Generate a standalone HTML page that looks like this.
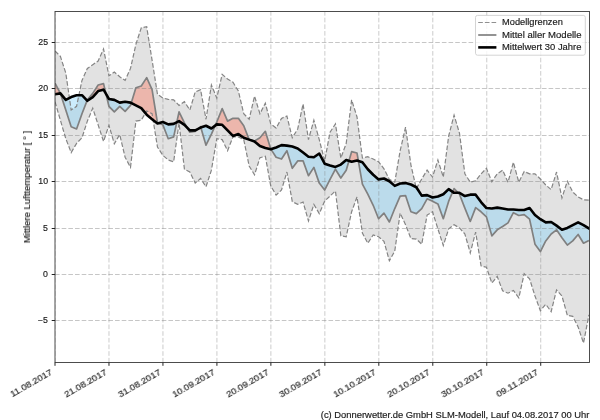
<!DOCTYPE html>
<html><head><meta charset="utf-8"><title>Chart</title>
<style>
html,body{margin:0;padding:0;background:#fff;}
.yl,.xl,.ylab span,.lg,.ft{will-change:transform;-webkit-text-stroke:0.15px #1a1a1a;}
body{width:600px;height:420px;position:relative;overflow:hidden;font-family:"Liberation Sans",sans-serif;color:#1a1a1a;}
.yl{position:absolute;right:551.7px;width:40px;text-align:right;transform-origin:100% 50%;transform:scaleX(1.07);font-size:8.2px;line-height:10px;height:10px;white-space:nowrap;}
.xl{position:absolute;top:368.2px;font-size:8.2px;line-height:10px;height:10px;white-space:nowrap;transform-origin:100% 0%;transform:rotate(-30deg) scaleX(1.16);}
.ylab{position:absolute;left:27.6px;top:187.3px;width:0;height:0;}
.ylab span{position:absolute;display:block;white-space:nowrap;font-size:8.2px;line-height:10px;transform:translate(-50%,-50%) rotate(-90deg) scaleX(1.16);}
.lg{position:absolute;left:502.3px;transform-origin:0 50%;transform:scaleX(1.172);font-size:8.2px;line-height:10px;white-space:nowrap;}
.ft{position:absolute;right:10.6px;top:410.9px;transform-origin:100% 50%;transform:scaleX(1.146);font-size:8.2px;line-height:10px;white-space:nowrap;}
</style></head><body>
<svg width="600" height="420" viewBox="0 0 600 420" style="position:absolute;left:0;top:0">
<defs><clipPath id="c"><rect x="55.0" y="11.5" width="534.5" height="351.0"/></clipPath></defs>
<rect x="55.0" y="11.5" width="534.5" height="351.0" fill="#fff"/>
<g clip-path="url(#c)">
<path d="M55.00,51.01 L60.39,56.38 L65.79,73.03 L71.18,110.03 L76.57,106.32 L81.97,80.43 L87.36,68.40 L92.75,64.70 L98.14,61.00 L103.54,48.97 L108.93,75.80 L114.32,72.10 L119.72,76.72 L125.11,80.43 L130.50,68.40 L135.89,44.35 L141.29,27.70 L146.68,26.78 L152.07,60.07 L157.47,94.30 L162.86,98.00 L168.25,99.39 L173.65,99.85 L179.04,105.40 L184.43,101.70 L189.82,110.03 L195.22,91.99 L200.61,89.68 L206.00,119.28 L211.40,85.05 L216.79,98.00 L222.18,74.41 L227.58,79.04 L232.97,82.28 L238.36,91.06 L243.75,113.72 L249.15,119.28 L254.54,96.15 L259.93,113.72 L265.33,103.09 L270.72,123.90 L276.11,128.06 L281.51,118.35 L286.90,116.04 L292.29,137.78 L297.69,128.99 L303.08,104.01 L308.47,139.62 L313.86,120.20 L319.26,139.62 L324.65,160.90 L330.04,132.22 L335.44,123.90 L340.83,158.12 L346.22,143.33 L351.62,99.85 L357.01,116.96 L362.40,158.12 L367.79,156.74 L373.19,159.05 L378.58,161.82 L383.97,168.76 L389.37,179.40 L394.76,182.18 L400.15,150.72 L405.54,127.14 L410.94,165.06 L416.33,188.65 L421.72,178.94 L427.12,170.15 L432.51,177.09 L437.90,159.97 L443.30,177.09 L448.69,135.92 L454.08,115.11 L459.47,133.15 L464.87,173.85 L470.26,182.18 L475.65,180.79 L481.05,173.85 L486.44,168.30 L491.83,181.71 L497.23,173.85 L502.62,170.15 L508.01,182.18 L513.40,162.29 L518.80,182.18 L524.19,171.54 L529.58,173.85 L534.98,173.85 L540.37,178.94 L545.76,184.95 L551.16,189.57 L556.55,172.00 L561.94,197.90 L567.34,181.25 L572.73,191.89 L578.12,196.97 L583.51,199.75 L588.91,200.21 L588.91,314.91 L583.51,343.12 L578.12,326.94 L572.73,316.30 L567.34,315.38 L561.94,295.95 L556.55,289.94 L551.16,311.68 L545.76,304.27 L540.37,310.75 L534.98,295.95 L529.58,278.84 L524.19,273.75 L518.80,297.80 L513.40,290.40 L508.01,293.18 L502.62,290.86 L497.23,276.52 L491.83,283.00 L486.44,267.27 L481.05,265.89 L475.65,232.12 L470.26,252.94 L464.87,233.97 L459.47,227.96 L454.08,224.72 L448.69,228.89 L443.30,245.54 L437.90,228.89 L432.51,211.78 L427.12,215.01 L421.72,244.15 L416.33,239.06 L410.94,238.60 L405.54,224.72 L400.15,213.16 L394.76,251.09 L389.37,260.80 L383.97,241.38 L378.58,236.75 L373.19,234.90 L367.79,243.22 L362.40,233.05 L357.01,196.97 L351.62,211.78 L346.22,236.75 L340.83,235.82 L335.44,190.96 L330.04,196.05 L324.65,201.14 L319.26,213.62 L313.86,204.38 L308.47,221.03 L303.08,202.06 L297.69,204.38 L292.29,201.60 L286.90,172.00 L281.51,190.04 L276.11,195.12 L270.72,185.88 L265.33,156.28 L259.93,157.66 L254.54,174.78 L249.15,165.99 L243.75,139.62 L238.36,136.85 L232.97,136.85 L227.58,150.72 L222.18,139.62 L216.79,138.70 L211.40,170.15 L206.00,186.80 L200.61,178.47 L195.22,183.10 L189.82,172.00 L184.43,169.22 L179.04,122.97 L173.65,161.82 L168.25,159.97 L162.86,155.35 L157.47,147.03 L152.07,113.72 L146.68,110.95 L141.29,120.20 L135.89,121.12 L130.50,167.38 L125.11,157.20 L119.72,134.54 L114.32,143.79 L108.93,125.29 L103.54,141.47 L98.14,124.82 L92.75,108.18 L87.36,121.12 L81.97,137.78 L76.57,143.33 L71.18,152.57 L65.79,138.70 L60.39,120.20 L55.00,101.70Z" fill="#e2e2e2"/>
<path d="M60.39,93.38 L65.79,110.03 L65.79,99.85 L60.39,93.38Z M65.79,110.03 L71.18,126.67 L71.18,97.07 L65.79,99.85Z M71.18,126.67 L76.57,128.99 L76.57,95.22 L71.18,97.07Z M76.57,128.99 L81.97,113.72 L81.97,95.22 L76.57,95.22Z M81.97,113.72 L87.10,100.51 L81.97,95.22Z M105.95,93.82 L108.93,106.32 L108.93,98.93Z M108.93,106.32 L114.32,111.88 L114.32,99.85 L108.93,98.93Z M114.32,111.88 L119.72,106.32 L119.72,102.62 L114.32,99.85Z M119.72,106.32 L125.11,111.41 L125.11,101.70 L119.72,102.62Z M125.11,111.41 L130.50,105.40 L130.50,102.62 L125.11,101.70Z M130.50,105.40 L131.24,103.00 L130.50,102.62Z M158.24,123.24 L162.86,124.82 L162.86,122.05Z M162.86,124.82 L168.25,138.70 L168.25,124.36 L162.86,122.05Z M168.25,138.70 L173.65,136.85 L173.65,123.90 L168.25,124.36Z M173.65,136.85 L176.79,122.28 L173.65,123.90Z M187.13,127.60 L189.82,132.22 L189.82,130.38Z M189.82,132.22 L195.22,131.30 L195.22,130.38 L189.82,130.38Z M195.22,131.30 L197.91,128.99 L195.22,130.38Z M200.86,127.52 L206.00,145.17 L206.00,125.75Z M206.00,145.17 L211.40,134.08 L211.40,128.53 L206.00,125.75Z M211.40,134.08 L215.20,125.59 L211.40,128.53Z M270.97,149.25 L276.11,157.20 L276.11,147.49Z M276.11,157.20 L281.51,159.05 L281.51,145.17 L276.11,147.49Z M281.51,159.05 L286.90,150.72 L286.90,145.64 L281.51,145.17Z M286.90,150.72 L292.29,168.30 L292.29,146.56 L286.90,145.64Z M292.29,168.30 L297.69,160.90 L297.69,148.41 L292.29,146.56Z M297.69,160.90 L303.08,160.90 L303.08,152.57 L297.69,148.41Z M303.08,160.90 L308.47,175.70 L308.47,156.74 L303.08,152.57Z M308.47,175.70 L313.86,167.38 L313.86,157.20 L308.47,156.74Z M313.86,167.38 L319.26,183.10 L319.26,153.50 L313.86,157.20Z M319.26,183.10 L324.65,190.04 L324.65,163.68 L319.26,153.50Z M324.65,190.04 L330.04,179.40 L330.04,165.53 L324.65,163.68Z M330.04,179.40 L335.44,169.22 L335.44,166.91 L330.04,165.53Z M335.44,169.22 L340.83,178.01 L340.83,164.60 L335.44,166.91Z M340.83,178.01 L346.22,170.15 L346.22,159.97 L340.83,164.60Z M346.22,170.15 L348.92,160.90 L346.22,159.97Z M358.38,160.91 L362.40,184.03 L362.40,162.29Z M362.40,184.03 L367.79,194.20 L367.79,169.22 L362.40,162.29Z M367.79,194.20 L373.19,205.30 L373.19,174.78 L367.79,169.22Z M373.19,205.30 L378.58,218.71 L378.58,179.40 L373.19,174.78Z M378.58,218.71 L383.97,213.16 L383.97,178.47 L378.58,179.40Z M383.97,213.16 L389.37,221.95 L389.37,181.25 L383.97,178.47Z M389.37,221.95 L394.76,208.54 L394.76,185.88 L389.37,181.25Z M394.76,208.54 L400.15,196.05 L400.15,183.56 L394.76,185.88Z M400.15,196.05 L405.54,195.59 L405.54,183.10 L400.15,183.56Z M405.54,195.59 L410.94,211.78 L410.94,184.49 L405.54,183.10Z M410.94,211.78 L416.33,213.62 L416.33,187.26 L410.94,184.49Z M416.33,213.62 L421.72,208.54 L421.72,195.59 L416.33,187.26Z M421.72,208.54 L427.12,198.82 L427.12,195.12 L421.72,195.59Z M427.12,198.82 L432.51,201.14 L432.51,197.44 L427.12,195.12Z M432.51,201.14 L437.90,203.91 L437.90,196.51 L432.51,197.44Z M437.90,203.91 L443.30,218.71 L443.30,194.20 L437.90,196.51Z M443.30,218.71 L448.69,201.14 L448.69,189.11 L443.30,194.20Z M448.69,201.14 L452.70,191.86 L448.69,189.11Z M458.13,192.81 L459.47,194.20 L459.47,192.81Z M459.47,194.20 L464.87,208.07 L464.87,196.05 L459.47,192.81Z M464.87,208.07 L470.26,221.49 L470.26,194.66 L464.87,196.05Z M470.26,221.49 L475.65,207.61 L475.65,194.66 L470.26,194.66Z M475.65,207.61 L481.05,211.78 L481.05,202.06 L475.65,194.66Z M481.05,211.78 L486.44,216.86 L486.44,208.07 L481.05,202.06Z M486.44,216.86 L491.83,235.82 L491.83,208.54 L486.44,208.07Z M491.83,235.82 L497.23,229.81 L497.23,207.61 L491.83,208.54Z M497.23,229.81 L502.62,226.57 L502.62,208.54 L497.23,207.61Z M502.62,226.57 L508.01,222.88 L508.01,209.46 L502.62,208.54Z M508.01,222.88 L513.40,212.70 L513.40,209.46 L508.01,209.46Z M513.40,212.70 L518.80,215.47 L518.80,209.93 L513.40,209.46Z M518.80,215.47 L524.19,214.55 L524.19,209.93 L518.80,209.93Z M524.19,214.55 L529.58,219.18 L529.58,208.07 L524.19,209.93Z M529.58,219.18 L534.98,244.15 L534.98,215.01 L529.58,208.07Z M534.98,244.15 L540.37,251.55 L540.37,219.18 L534.98,215.01Z M540.37,251.55 L545.76,240.91 L545.76,222.41 L540.37,219.18Z M545.76,240.91 L551.16,233.97 L551.16,221.95 L545.76,222.41Z M551.16,233.97 L556.55,229.81 L556.55,225.65 L551.16,221.95Z M556.55,229.81 L561.94,237.68 L561.94,229.81 L556.55,225.65Z M561.94,237.68 L567.34,245.07 L567.34,227.96 L561.94,229.81Z M567.34,245.07 L572.73,240.91 L572.73,225.19 L567.34,227.96Z M572.73,240.91 L578.12,234.44 L578.12,222.41 L572.73,225.19Z M578.12,234.44 L583.51,243.22 L583.51,225.19 L578.12,222.41Z M583.51,243.22 L588.91,240.45 L588.91,228.43 L583.51,225.19Z" fill="#85d1f7" fill-opacity="0.42"/>
<path d="M55.00,83.20 L60.39,93.38 L60.39,93.38 L55.00,94.30Z M87.10,100.51 L87.36,99.85 L87.36,100.78Z M87.36,99.85 L92.75,93.38 L92.75,97.07 L87.36,100.78Z M92.75,93.38 L98.14,85.05 L98.14,91.06 L92.75,97.07Z M98.14,85.05 L103.54,83.66 L103.54,89.68 L98.14,91.06Z M103.54,83.66 L105.95,93.82 L103.54,89.68Z M131.24,103.00 L135.89,87.82 L135.89,105.40Z M135.89,87.82 L141.29,85.97 L141.29,108.18 L135.89,105.40Z M141.29,85.97 L146.68,77.65 L146.68,114.65 L141.29,108.18Z M146.68,77.65 L152.07,89.68 L152.07,119.28 L146.68,114.65Z M152.07,89.68 L157.47,122.97 L157.47,123.44 L152.07,119.28Z M157.47,122.97 L158.24,123.24 L157.47,123.44Z M176.79,122.28 L179.04,111.88 L179.04,121.12Z M179.04,111.88 L184.43,122.97 L184.43,124.82 L179.04,121.12Z M184.43,122.97 L187.13,127.60 L184.43,124.82Z M197.91,128.99 L200.61,126.67 L200.61,127.60Z M200.61,126.67 L200.86,127.52 L200.61,127.60Z M215.20,125.59 L216.79,122.05 L216.79,124.36Z M216.79,122.05 L222.18,108.64 L222.18,124.82 L216.79,124.36Z M222.18,108.64 L227.58,121.12 L227.58,130.38 L222.18,124.82Z M227.58,121.12 L232.97,118.35 L232.97,135.92 L227.58,130.38Z M232.97,118.35 L238.36,118.35 L238.36,134.08 L232.97,135.92Z M238.36,118.35 L243.75,125.75 L243.75,137.78 L238.36,134.08Z M243.75,125.75 L249.15,139.62 L249.15,139.62 L243.75,137.78Z M249.15,139.62 L254.54,141.01 L254.54,141.47 L249.15,139.62Z M254.54,141.01 L259.93,137.78 L259.93,146.10 L254.54,141.47Z M259.93,137.78 L265.33,131.30 L265.33,147.95 L259.93,146.10Z M265.33,131.30 L270.72,148.88 L270.72,149.34 L265.33,147.95Z M270.72,148.88 L270.97,149.25 L270.72,149.34Z M348.92,160.90 L351.62,151.65 L351.62,161.82Z M351.62,151.65 L357.01,153.04 L357.01,160.44 L351.62,161.82Z M357.01,153.04 L358.38,160.91 L357.01,160.44Z M452.70,191.86 L454.08,188.65 L454.08,192.81Z M454.08,188.65 L458.13,192.81 L454.08,192.81Z" fill="#fa7a62" fill-opacity="0.42"/>
<path d="M55.00,362.5 V11.5 M108.97,362.5 V11.5 M162.94,362.5 V11.5 M216.91,362.5 V11.5 M270.88,362.5 V11.5 M324.85,362.5 V11.5 M378.82,362.5 V11.5 M432.79,362.5 V11.5 M486.76,362.5 V11.5 M540.73,362.5 V11.5" fill="none" stroke="#808080" stroke-opacity="0.40" stroke-width="1" stroke-dasharray="4.63 2.04"/>
<path d="M55.0,320.50 H589.5 M55.0,274.50 H589.5 M55.0,228.50 H589.5 M55.0,181.50 H589.5 M55.0,135.50 H589.5 M55.0,88.50 H589.5 M55.0,42.50 H589.5" fill="none" stroke="#808080" stroke-opacity="0.45" stroke-width="1" stroke-dasharray="4.63 2.04"/>
<path d="M55.00,51.01 L60.39,56.38 L65.79,73.03 L71.18,110.03 L76.57,106.32 L81.97,80.43 L87.36,68.40 L92.75,64.70 L98.14,61.00 L103.54,48.97 L108.93,75.80 L114.32,72.10 L119.72,76.72 L125.11,80.43 L130.50,68.40 L135.89,44.35 L141.29,27.70 L146.68,26.78 L152.07,60.07 L157.47,94.30 L162.86,98.00 L168.25,99.39 L173.65,99.85 L179.04,105.40 L184.43,101.70 L189.82,110.03 L195.22,91.99 L200.61,89.68 L206.00,119.28 L211.40,85.05 L216.79,98.00 L222.18,74.41 L227.58,79.04 L232.97,82.28 L238.36,91.06 L243.75,113.72 L249.15,119.28 L254.54,96.15 L259.93,113.72 L265.33,103.09 L270.72,123.90 L276.11,128.06 L281.51,118.35 L286.90,116.04 L292.29,137.78 L297.69,128.99 L303.08,104.01 L308.47,139.62 L313.86,120.20 L319.26,139.62 L324.65,160.90 L330.04,132.22 L335.44,123.90 L340.83,158.12 L346.22,143.33 L351.62,99.85 L357.01,116.96 L362.40,158.12 L367.79,156.74 L373.19,159.05 L378.58,161.82 L383.97,168.76 L389.37,179.40 L394.76,182.18 L400.15,150.72 L405.54,127.14 L410.94,165.06 L416.33,188.65 L421.72,178.94 L427.12,170.15 L432.51,177.09 L437.90,159.97 L443.30,177.09 L448.69,135.92 L454.08,115.11 L459.47,133.15 L464.87,173.85 L470.26,182.18 L475.65,180.79 L481.05,173.85 L486.44,168.30 L491.83,181.71 L497.23,173.85 L502.62,170.15 L508.01,182.18 L513.40,162.29 L518.80,182.18 L524.19,171.54 L529.58,173.85 L534.98,173.85 L540.37,178.94 L545.76,184.95 L551.16,189.57 L556.55,172.00 L561.94,197.90 L567.34,181.25 L572.73,191.89 L578.12,196.97 L583.51,199.75 L588.91,200.21" fill="none" stroke="#848484" stroke-width="1.2" stroke-dasharray="4.63 2.04"/>
<path d="M55.00,101.70 L60.39,120.20 L65.79,138.70 L71.18,152.57 L76.57,143.33 L81.97,137.78 L87.36,121.12 L92.75,108.18 L98.14,124.82 L103.54,141.47 L108.93,125.29 L114.32,143.79 L119.72,134.54 L125.11,157.20 L130.50,167.38 L135.89,121.12 L141.29,120.20 L146.68,110.95 L152.07,113.72 L157.47,147.03 L162.86,155.35 L168.25,159.97 L173.65,161.82 L179.04,122.97 L184.43,169.22 L189.82,172.00 L195.22,183.10 L200.61,178.47 L206.00,186.80 L211.40,170.15 L216.79,138.70 L222.18,139.62 L227.58,150.72 L232.97,136.85 L238.36,136.85 L243.75,139.62 L249.15,165.99 L254.54,174.78 L259.93,157.66 L265.33,156.28 L270.72,185.88 L276.11,195.12 L281.51,190.04 L286.90,172.00 L292.29,201.60 L297.69,204.38 L303.08,202.06 L308.47,221.03 L313.86,204.38 L319.26,213.62 L324.65,201.14 L330.04,196.05 L335.44,190.96 L340.83,235.82 L346.22,236.75 L351.62,211.78 L357.01,196.97 L362.40,233.05 L367.79,243.22 L373.19,234.90 L378.58,236.75 L383.97,241.38 L389.37,260.80 L394.76,251.09 L400.15,213.16 L405.54,224.72 L410.94,238.60 L416.33,239.06 L421.72,244.15 L427.12,215.01 L432.51,211.78 L437.90,228.89 L443.30,245.54 L448.69,228.89 L454.08,224.72 L459.47,227.96 L464.87,233.97 L470.26,252.94 L475.65,232.12 L481.05,265.89 L486.44,267.27 L491.83,283.00 L497.23,276.52 L502.62,290.86 L508.01,293.18 L513.40,290.40 L518.80,297.80 L524.19,273.75 L529.58,278.84 L534.98,295.95 L540.37,310.75 L545.76,304.27 L551.16,311.68 L556.55,289.94 L561.94,295.95 L567.34,315.38 L572.73,316.30 L578.12,326.94 L583.51,343.12 L588.91,314.91" fill="none" stroke="#848484" stroke-width="1.2" stroke-dasharray="4.63 2.04"/>
<path d="M55.00,83.20 L60.39,93.38 L65.79,110.03 L71.18,126.67 L76.57,128.99 L81.97,113.72 L87.36,99.85 L92.75,93.38 L98.14,85.05 L103.54,83.66 L108.93,106.32 L114.32,111.88 L119.72,106.32 L125.11,111.41 L130.50,105.40 L135.89,87.82 L141.29,85.97 L146.68,77.65 L152.07,89.68 L157.47,122.97 L162.86,124.82 L168.25,138.70 L173.65,136.85 L179.04,111.88 L184.43,122.97 L189.82,132.22 L195.22,131.30 L200.61,126.67 L206.00,145.17 L211.40,134.08 L216.79,122.05 L222.18,108.64 L227.58,121.12 L232.97,118.35 L238.36,118.35 L243.75,125.75 L249.15,139.62 L254.54,141.01 L259.93,137.78 L265.33,131.30 L270.72,148.88 L276.11,157.20 L281.51,159.05 L286.90,150.72 L292.29,168.30 L297.69,160.90 L303.08,160.90 L308.47,175.70 L313.86,167.38 L319.26,183.10 L324.65,190.04 L330.04,179.40 L335.44,169.22 L340.83,178.01 L346.22,170.15 L351.62,151.65 L357.01,153.04 L362.40,184.03 L367.79,194.20 L373.19,205.30 L378.58,218.71 L383.97,213.16 L389.37,221.95 L394.76,208.54 L400.15,196.05 L405.54,195.59 L410.94,211.78 L416.33,213.62 L421.72,208.54 L427.12,198.82 L432.51,201.14 L437.90,203.91 L443.30,218.71 L448.69,201.14 L454.08,188.65 L459.47,194.20 L464.87,208.07 L470.26,221.49 L475.65,207.61 L481.05,211.78 L486.44,216.86 L491.83,235.82 L497.23,229.81 L502.62,226.57 L508.01,222.88 L513.40,212.70 L518.80,215.47 L524.19,214.55 L529.58,219.18 L534.98,244.15 L540.37,251.55 L545.76,240.91 L551.16,233.97 L556.55,229.81 L561.94,237.68 L567.34,245.07 L572.73,240.91 L578.12,234.44 L583.51,243.22 L588.91,240.45" fill="none" stroke="#808080" stroke-width="1.7" stroke-linejoin="round"/>
<path d="M55.00,94.30 L60.39,93.38 L65.79,99.85 L71.18,97.07 L76.57,95.22 L81.97,95.22 L87.36,100.78 L92.75,97.07 L98.14,91.06 L103.54,89.68 L108.93,98.93 L114.32,99.85 L119.72,102.62 L125.11,101.70 L130.50,102.62 L135.89,105.40 L141.29,108.18 L146.68,114.65 L152.07,119.28 L157.47,123.44 L162.86,122.05 L168.25,124.36 L173.65,123.90 L179.04,121.12 L184.43,124.82 L189.82,130.38 L195.22,130.38 L200.61,127.60 L206.00,125.75 L211.40,128.53 L216.79,124.36 L222.18,124.82 L227.58,130.38 L232.97,135.92 L238.36,134.08 L243.75,137.78 L249.15,139.62 L254.54,141.47 L259.93,146.10 L265.33,147.95 L270.72,149.34 L276.11,147.49 L281.51,145.17 L286.90,145.64 L292.29,146.56 L297.69,148.41 L303.08,152.57 L308.47,156.74 L313.86,157.20 L319.26,153.50 L324.65,163.68 L330.04,165.53 L335.44,166.91 L340.83,164.60 L346.22,159.97 L351.62,161.82 L357.01,160.44 L362.40,162.29 L367.79,169.22 L373.19,174.78 L378.58,179.40 L383.97,178.47 L389.37,181.25 L394.76,185.88 L400.15,183.56 L405.54,183.10 L410.94,184.49 L416.33,187.26 L421.72,195.59 L427.12,195.12 L432.51,197.44 L437.90,196.51 L443.30,194.20 L448.69,189.11 L454.08,192.81 L459.47,192.81 L464.87,196.05 L470.26,194.66 L475.65,194.66 L481.05,202.06 L486.44,208.07 L491.83,208.54 L497.23,207.61 L502.62,208.54 L508.01,209.46 L513.40,209.46 L518.80,209.93 L524.19,209.93 L529.58,208.07 L534.98,215.01 L540.37,219.18 L545.76,222.41 L551.16,221.95 L556.55,225.65 L561.94,229.81 L567.34,227.96 L572.73,225.19 L578.12,222.41 L583.51,225.19 L588.91,228.43" fill="none" stroke="#000" stroke-width="2.6" stroke-linejoin="round" stroke-linecap="square"/>
</g>
<rect x="55.0" y="11.5" width="534.5" height="351.0" fill="none" stroke="#3a3a3a" stroke-width="0.9"/>
<path d="M55.00,362.5 v3.3 M108.97,362.5 v3.3 M162.94,362.5 v3.3 M216.91,362.5 v3.3 M270.88,362.5 v3.3 M324.85,362.5 v3.3 M378.82,362.5 v3.3 M432.79,362.5 v3.3 M486.76,362.5 v3.3 M540.73,362.5 v3.3 M55.0,320.50 h-3.3 M55.0,274.50 h-3.3 M55.0,228.50 h-3.3 M55.0,181.50 h-3.3 M55.0,135.50 h-3.3 M55.0,88.50 h-3.3 M55.0,42.50 h-3.3" stroke="#222" stroke-width="1" fill="none"/>
<rect x="475.5" y="15.4" width="109.8" height="39.8" rx="2" ry="2" fill="#fff" fill-opacity="0.8" stroke="#cfcfcf" stroke-width="0.9"/>
<path d="M478.2,22.5 H496.4" stroke="#909090" stroke-width="1.1" stroke-dasharray="4.63 2.04"/>
<path d="M478.2,35 H496.4" stroke="#808080" stroke-width="1.7"/>
<path d="M478.2,47.4 H496.4" stroke="#000" stroke-width="2.6"/>
</svg>
<div class="yl" style="top:316.20px">−5</div>
<div class="yl" style="top:270.20px">0</div>
<div class="yl" style="top:224.20px">5</div>
<div class="yl" style="top:177.20px">10</div>
<div class="yl" style="top:131.20px">15</div>
<div class="yl" style="top:84.20px">20</div>
<div class="yl" style="top:38.20px">25</div>
<div class="xl" style="right:550.40px">11.08.2017</div>
<div class="xl" style="right:496.43px">21.08.2017</div>
<div class="xl" style="right:442.46px">31.08.2017</div>
<div class="xl" style="right:388.49px">10.09.2017</div>
<div class="xl" style="right:334.52px">20.09.2017</div>
<div class="xl" style="right:280.55px">30.09.2017</div>
<div class="xl" style="right:226.58px">10.10.2017</div>
<div class="xl" style="right:172.61px">20.10.2017</div>
<div class="xl" style="right:118.64px">30.10.2017</div>
<div class="xl" style="right:64.67px">09.11.2017</div>
<div class="ylab"><span>Mittlere Lufttemperatur [ &deg; ]</span></div>
<div class="lg" style="top:18.1px;transform:scaleX(1.132)">Modellgrenzen</div>
<div class="lg" style="top:31px;transform:scaleX(1.165)">Mittel aller Modelle</div>
<div class="lg" style="top:43.4px;transform:scaleX(1.148)">Mittelwert 30 Jahre</div>
<div class="ft">(c) Donnerwetter.de GmbH SLM-Modell, Lauf 04.08.2017 00 Uhr</div>
</body></html>
